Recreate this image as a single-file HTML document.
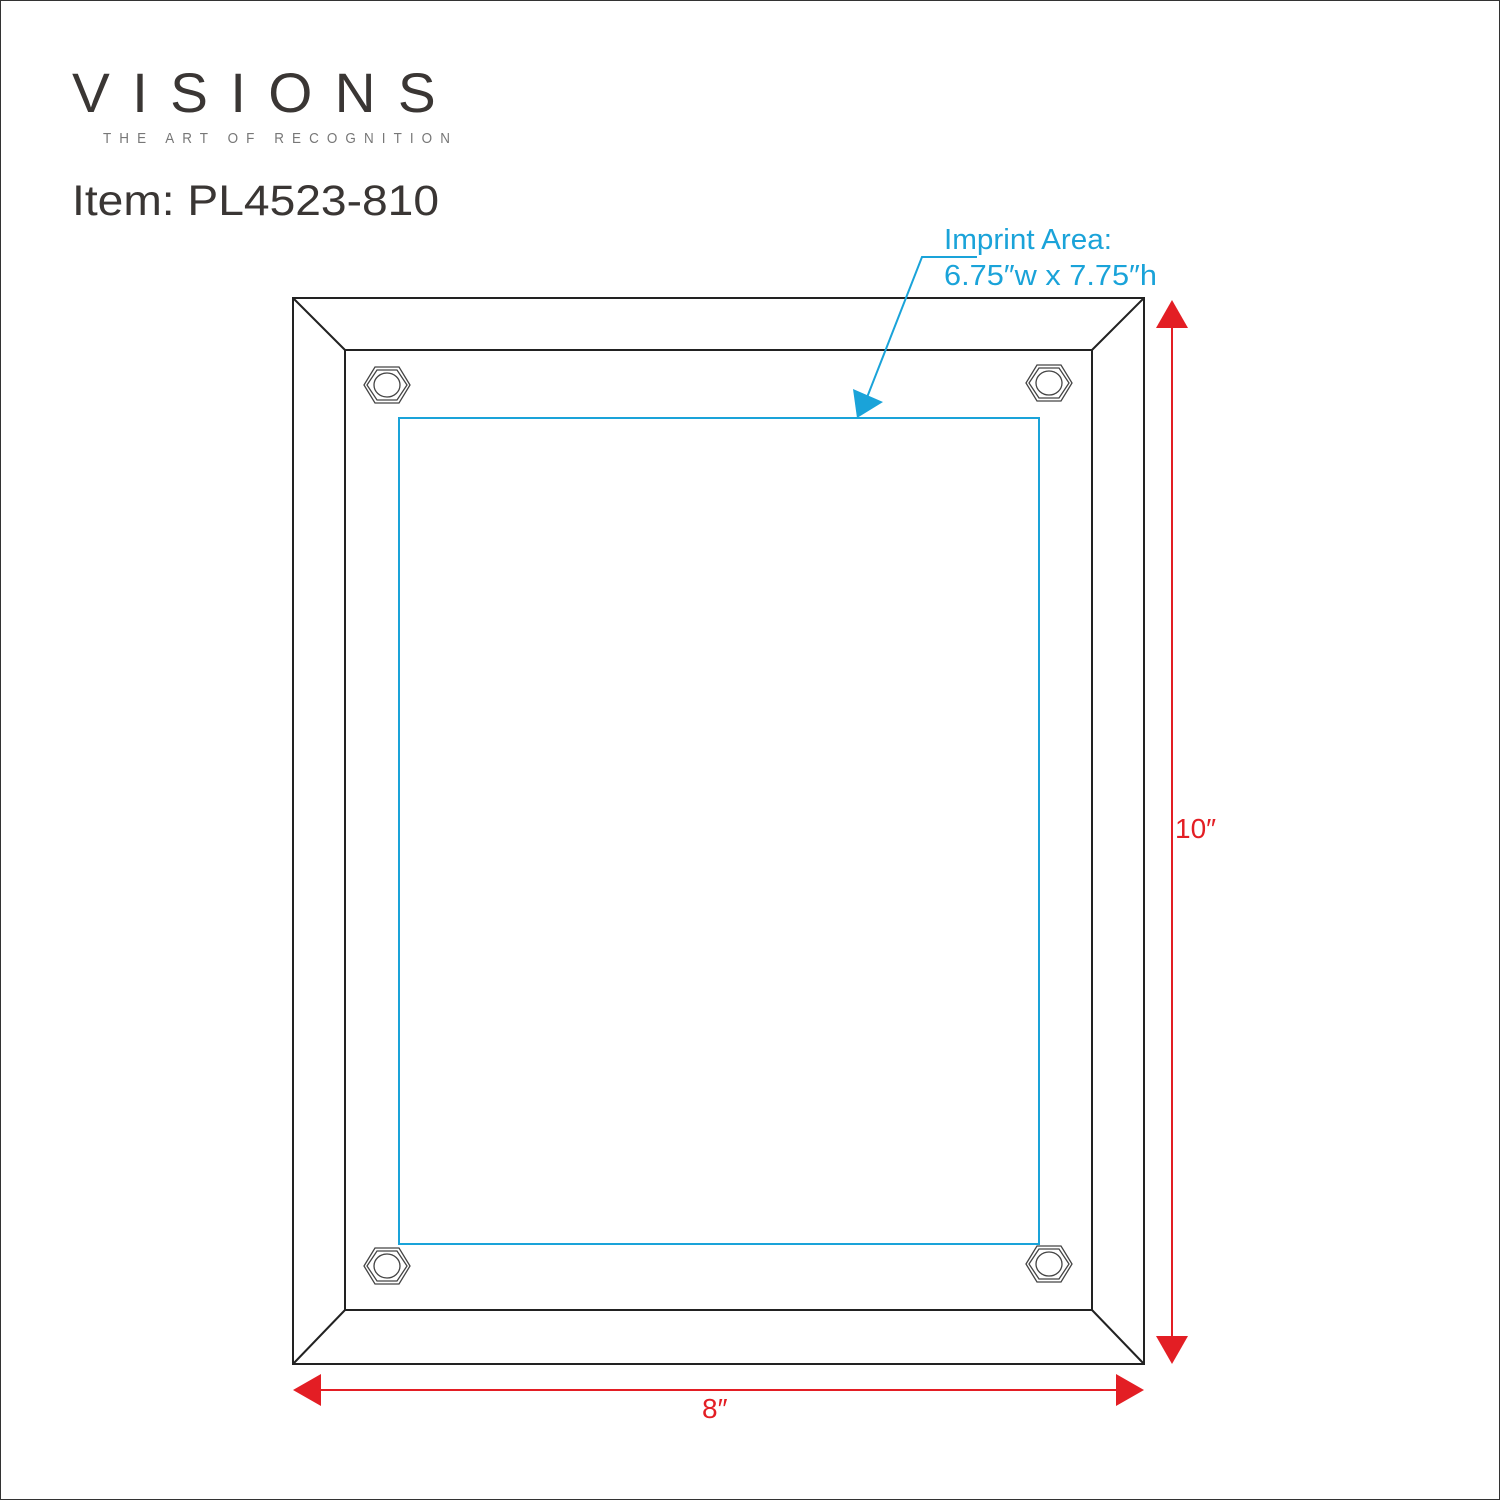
<!DOCTYPE html>
<html><head><style>
html,body{margin:0;padding:0;background:#fff}
svg{display:block}
text{font-family:"Liberation Sans",sans-serif}
</style></head><body>
<svg width="1500" height="1500" viewBox="0 0 1500 1500">
<rect x="0.5" y="0.5" width="1499" height="1499" fill="#fff" stroke="#333" stroke-width="1"/>
<text x="72" y="112" font-size="56" fill="#3a3634" letter-spacing="22" textLength="386" lengthAdjust="spacingAndGlyphs">VISIONS</text>
<text x="103" y="143" font-size="15" fill="#777" letter-spacing="9" textLength="355" lengthAdjust="spacingAndGlyphs">THE ART OF RECOGNITION</text>
<text x="72" y="215" font-size="43" fill="#3a3634" textLength="367" lengthAdjust="spacingAndGlyphs">Item: PL4523-810</text>
<g fill="none" stroke="#222" stroke-width="2">
<rect x="293" y="298" width="851" height="1066"/>
<rect x="345" y="350" width="747" height="960"/>
<line x1="293" y1="298" x2="345" y2="350"/><line x1="1144" y1="298" x2="1092" y2="350"/>
<line x1="293" y1="1364" x2="345" y2="1310"/><line x1="1144" y1="1364" x2="1092" y2="1310"/>
</g>
<g fill="none" stroke="#444" stroke-width="1.3">
<g transform="translate(387,385)"><polygon points="-23,0 -12,-18 12,-18 23,0 12,18 -12,18"/><polygon points="-20,0 -10,-15 10,-15 20,0 10,15 -10,15"/><ellipse rx="13" ry="12"/></g>
<g transform="translate(1049,383)"><polygon points="-23,0 -12,-18 12,-18 23,0 12,18 -12,18"/><polygon points="-20,0 -10,-15 10,-15 20,0 10,15 -10,15"/><ellipse rx="13" ry="12"/></g>
<g transform="translate(387,1266)"><polygon points="-23,0 -12,-18 12,-18 23,0 12,18 -12,18"/><polygon points="-20,0 -10,-15 10,-15 20,0 10,15 -10,15"/><ellipse rx="13" ry="12"/></g>
<g transform="translate(1049,1264)"><polygon points="-23,0 -12,-18 12,-18 23,0 12,18 -12,18"/><polygon points="-20,0 -10,-15 10,-15 20,0 10,15 -10,15"/><ellipse rx="13" ry="12"/></g>
</g>
<rect x="399" y="418" width="640" height="826" fill="none" stroke="#1aa3d9" stroke-width="2"/>
<polyline points="977,257 922,257 866,400" fill="none" stroke="#1aa3d9" stroke-width="2"/>
<polygon points="857,418 853,389 883,402" fill="#1aa3d9"/>
<text x="944" y="249" font-size="29" fill="#1aa3d9" textLength="168" lengthAdjust="spacingAndGlyphs">Imprint Area:</text>
<text x="944" y="285" font-size="29" fill="#1aa3d9" textLength="213" lengthAdjust="spacingAndGlyphs">6.75″w x 7.75″h</text>
<line x1="1172" y1="320" x2="1172" y2="1342" stroke="#e31e24" stroke-width="2"/>
<polygon points="1172,300 1156,328 1188,328" fill="#e31e24"/>
<polygon points="1172,1364 1156,1336 1188,1336" fill="#e31e24"/>
<line x1="315" y1="1390" x2="1122" y2="1390" stroke="#e31e24" stroke-width="2"/>
<polygon points="293,1390 321,1374 321,1406" fill="#e31e24"/>
<polygon points="1144,1390 1116,1374 1116,1406" fill="#e31e24"/>
<text x="1175" y="838" font-size="28" fill="#e31e24">10″</text>
<text x="702" y="1418" font-size="28" fill="#e31e24">8″</text>
</svg>
</body></html>
